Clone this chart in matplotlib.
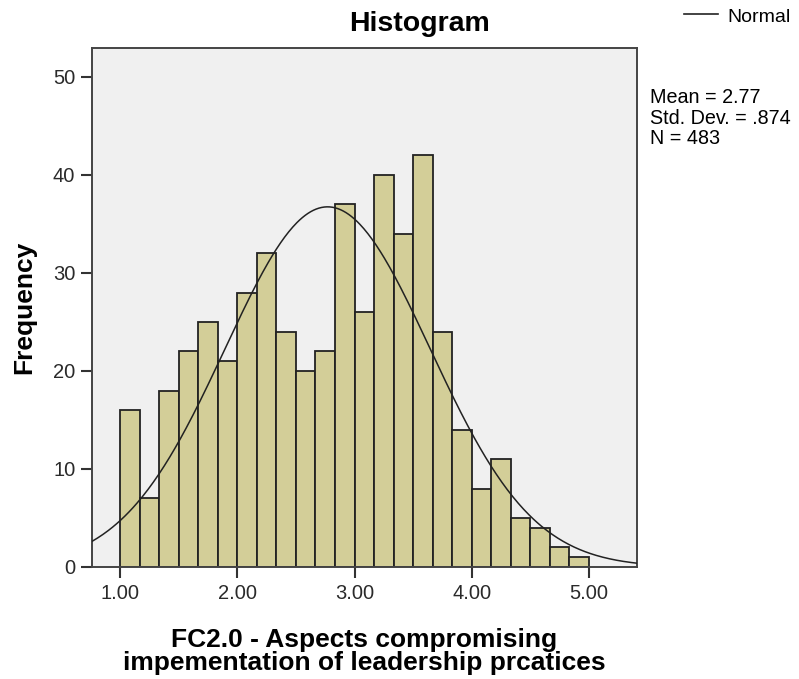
import numpy as np
import matplotlib
matplotlib.use("Agg")
import matplotlib.pyplot as plt

# ── Data ─────────────────────────────────────────────────────────────────────
bin_start = 1.0
bin_end = 5.0
counts = [16, 7, 18, 22, 25, 21, 28, 32, 24, 20, 22, 37,
          26, 40, 34, 42, 24, 14, 8, 11, 5, 4, 2, 1]
mean = 2.77
std_dev = 0.874
n_obs = 483
x_ticks = [1.0, 2.0, 3.0, 4.0, 5.0]
y_ticks = [0, 10, 20, 30, 40, 50]

# ── Style ────────────────────────────────────────────────────────────────────
BAR = "#d3ce98"
BG = "#f0f0f0"
DARK = "#222222"
plt.rcParams["font.family"] = ["Liberation Sans", "DejaVu Sans"]

fig = plt.figure(figsize=(7.99, 6.79), dpi=100)
ax = fig.add_axes([0.1151, 0.165, 0.6822, 0.765])
ax.set_facecolor(BG)

edges = np.linspace(bin_start, bin_end, len(counts) + 1)
width = edges[1] - edges[0]
ax.bar(edges[:-1], counts, width=width, align="edge",
       color=BAR, edgecolor=DARK, linewidth=1.3, zorder=2)

ax.set_xlim(0.76, 5.41)
ax.set_ylim(0, 53)

# normal curve fitted to mean / sd, scaled to counts
xs = np.linspace(0.76, 5.41, 400)
pdf = np.exp(-0.5 * ((xs - mean) / std_dev) ** 2) / (std_dev * np.sqrt(2 * np.pi))
ax.plot(xs, n_obs * width * pdf, color=DARK, linewidth=1.1, zorder=3)

ax.set_xticks(x_ticks)
ax.set_xticklabels([f"{v:.2f}" for v in x_ticks])
ax.set_yticks(y_ticks)
ax.tick_params(axis="both", direction="out", length=8, width=1.5,
               color="#333333", labelsize=14.5, labelcolor="#2a2a2a", pad=4)
for sp in ax.spines.values():
    sp.set_color("#444444")
    sp.set_linewidth(1.4)

ax.set_ylabel("Frequency", fontsize=19, fontweight="bold", labelpad=12)
ax.set_xlabel("FC2.0 - Aspects compromising\nimpementation of leadership prcatices",
              fontsize=19, fontweight="bold", labelpad=18, linespacing=0.95)

fig.text(0.525, 0.964, "Histogram", ha="center", va="center",
         fontsize=20.5, fontweight="bold")

# legend + stats at the right
fig.lines.append(plt.Line2D([684 / 799, 718 / 799], [1 - 14 / 679, 1 - 14 / 679],
                            transform=fig.transFigure, color=DARK, linewidth=1.2))
fig.text(727 / 799, 1 - 17 / 679, "Normal", ha="left", va="center", fontsize=14)
fig.text(650 / 799, 1 - 88 / 679,
         f"Mean = {mean:.2f}\nStd. Dev. = .874\nN = {n_obs}",
         ha="left", va="top", fontsize=14.2, linespacing=1.1)

fig.savefig("out.png", dpi=100)
